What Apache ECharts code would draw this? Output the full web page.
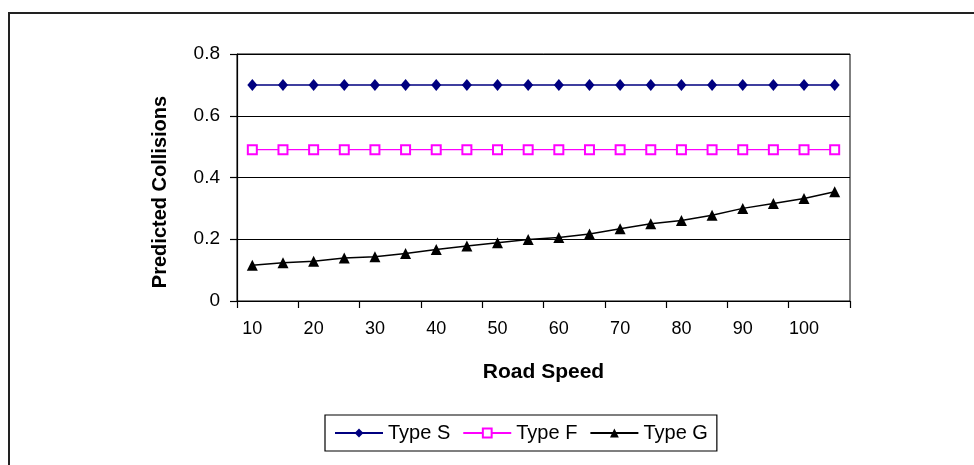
<!DOCTYPE html>
<html>
<head>
<meta charset="utf-8">
<script src="https://cdn.jsdelivr.net/npm/echarts@6/dist/echarts.min.js"></script>
<style>
html,body{margin:0;padding:0;background:#fff;}
#c{width:974px;height:465px;}
</style>
</head>
<body>
<div id="c"></div>
<script>
var speeds = ['10','15','20','25','30','35','40','45','50','55','60','65','70','75','80','85','90','95','100','105'];
var typeS = [0.70,0.70,0.70,0.70,0.70,0.70,0.70,0.70,0.70,0.70,0.70,0.70,0.70,0.70,0.70,0.70,0.70,0.70,0.70,0.70];
var typeF = [0.49,0.49,0.49,0.49,0.49,0.49,0.49,0.49,0.49,0.49,0.49,0.49,0.49,0.49,0.49,0.49,0.49,0.49,0.49,0.49];
var typeG = [0.116,0.124,0.129,0.139,0.143,0.154,0.167,0.178,0.189,0.199,0.206,0.217,0.234,0.250,0.261,0.278,0.300,0.316,0.332,0.354];
var yTicks = [0, 0.2, 0.4, 0.6, 0.8];

var FONT = 'Liberation Sans';
var chart = echarts.init(document.getElementById('c'), null, {renderer: 'canvas'});
chart.setOption({
  animation: false,
  backgroundColor: '#fff',
  textStyle: {fontFamily: FONT, color: '#000'},
  graphic: [
    {type: 'rect', shape: {x: 9, y: 13, width: 1100, height: 700}, style: {fill: 'none', stroke: '#222', lineWidth: 2}, silent: true, z: -10},
    {type: 'text', x: 160, y: 192, rotation: Math.PI / 2,
     style: {text: 'Predicted Collisions', font: 'bold 20px "Liberation Sans"', fill: '#000', align: 'center', verticalAlign: 'middle'}}
  ],
  grid: {left: 237, top: 54, right: 124, bottom: 164, show: true, borderColor: '#000', borderWidth: 1, containLabel: false},
  legend: {
    left: 325, top: 415,
    padding: [8, 9],
    itemGap: 12,
    itemWidth: 48, itemHeight: 11,
    borderColor: '#000', borderWidth: 1.2,
    textStyle: {fontFamily: FONT, fontSize: 20, color: '#000', lineHeight: 20},
    data: ['Type S', 'Type F', 'Type G']
  },
  xAxis: {
    type: 'category',
    data: speeds,
    boundaryGap: true,
    name: 'Road Speed',
    nameLocation: 'middle',
    nameGap: 61,
    nameTextStyle: {fontFamily: FONT, fontSize: 21, fontWeight: 'bold', color: '#000'},
    axisLine: {show: true, lineStyle: {color: '#000', width: 1.2}},
    axisTick: {show: true, interval: 1, alignWithLabel: false, length: 7, lineStyle: {color: '#000', width: 1.2}},
    axisLabel: {interval: 1, margin: 19, fontFamily: FONT, fontSize: 18, color: '#000'},
    splitLine: {show: false}
  },
  yAxis: {
    type: 'value',
    min: yTicks[0], max: yTicks[yTicks.length - 1], interval: 0.2,
    axisLine: {show: true, lineStyle: {color: '#000', width: 1.2}},
    axisTick: {show: true, length: 7, lineStyle: {color: '#000', width: 1.2}},
    axisLabel: {margin: 17, fontFamily: FONT, fontSize: 19, color: '#000'},
    splitLine: {show: true, lineStyle: {color: '#000', width: 1.2}}
  },
  series: [
    {name: 'Type S', type: 'line', data: typeS, symbol: 'diamond', symbolSize: [10, 12],
     itemStyle: {color: '#000080'}, lineStyle: {color: '#000080', width: 1.5}},
    {name: 'Type F', type: 'line', data: typeF, symbol: 'emptyRect', symbolSize: 9,
     itemStyle: {color: '#FF00FF', borderWidth: 1.3}, lineStyle: {color: '#FF00FF', width: 1.3}},
    {name: 'Type G', type: 'line', data: typeG, symbol: 'triangle', symbolSize: 11,
     itemStyle: {color: '#000'}, lineStyle: {color: '#000', width: 1.5}}
  ]
});
</script>
</body>
</html>
